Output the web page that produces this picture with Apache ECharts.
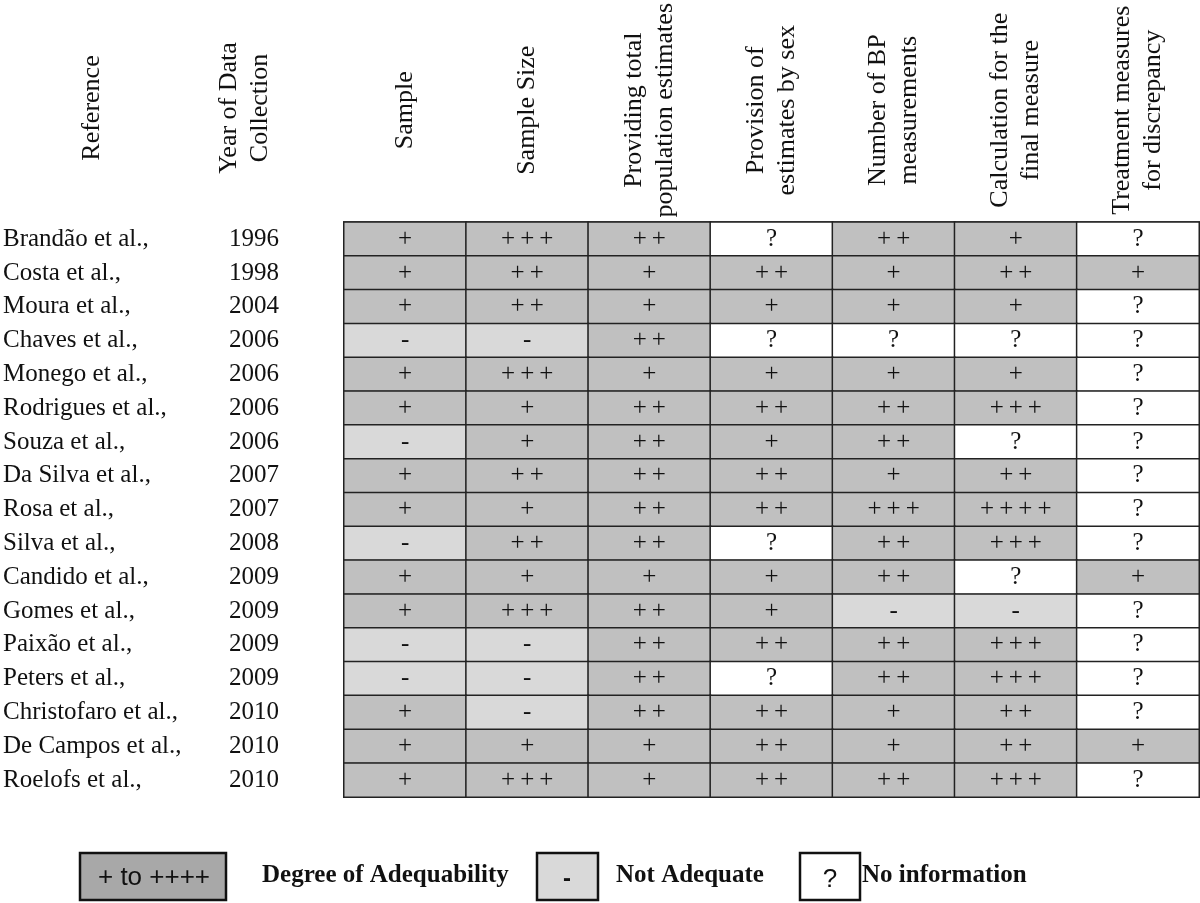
<!DOCTYPE html>
<html>
<head>
<meta charset="utf-8">
<script src="https://cdn.jsdelivr.net/npm/echarts@6/dist/echarts.min.js"></script>
<style>html,body{margin:0;padding:0;background:#fff}#chart{width:1200px;height:903px}</style>
</head>
<body>
<div id="chart"></div>
<script>
const references = ['Brandão et al.,','Costa et al.,','Moura et al.,','Chaves et al.,','Monego et al.,','Rodrigues et al.,','Souza et al.,','Da Silva et al.,','Rosa et al.,','Silva et al.,','Candido et al.,','Gomes et al.,','Paixão et al.,','Peters et al.,','Christofaro et al.,','De Campos et al.,','Roelofs et al.,'];
const years = ['1996','1998','2004','2006','2006','2006','2006','2007','2007','2008','2009','2009','2009','2009','2010','2010','2010'];
const criteria = ['Sample','Sample Size','Providing total\npopulation estimates','Provision of\nestimates by sex','Number of BP\nmeasurements','Calculation for the\nfinal measure','Treatment measures\nfor discrepancy'];
const ratings = [
  ['+','+++','++','?','++','+','?'],
  ['+','++','+','++','+','++','+'],
  ['+','++','+','+','+','+','?'],
  ['-','-','++','?','?','?','?'],
  ['+','+++','+','+','+','+','?'],
  ['+','+','++','++','++','+++','?'],
  ['-','+','++','+','++','?','?'],
  ['+','++','++','++','+','++','?'],
  ['+','+','++','++','+++','++++','?'],
  ['-','++','++','?','++','+++','?'],
  ['+','+','+','+','++','?','+'],
  ['+','+++','++','+','-','-','?'],
  ['-','-','++','++','++','+++','?'],
  ['-','-','++','?','++','+++','?'],
  ['+','-','++','++','+','++','?'],
  ['+','+','+','++','+','++','+'],
  ['+','+++','+','++','++','+++','?']
];

function level(s){ return s === '-' ? -1 : (s === '?' ? 0 : s.length); }
function symbol(v){ return v === -1 ? '-' : (v === 0 ? '?' : new Array(v).fill('+').join('\u2009')); }

const cells = [];
ratings.forEach((row, r) => row.forEach((s, c) => cells.push([c, r, level(s)])));

const SERIF = '"Liberation Serif","Times New Roman",serif';
const SANS = '"Liberation Sans",Arial,sans-serif';
const chart = echarts.init(document.getElementById('chart'), null, {renderer: 'canvas'});
chart.setOption({
  backgroundColor: '#ffffff',
  animation: false,
  grid: {left: 341, right: 1, top: 220, bottom: 106, show: true, borderColor: '#222', borderWidth: 2, backgroundColor: 'transparent'},
  xAxis: {
    type: 'category', position: 'top', data: criteria,
    axisLine: {show: false}, axisTick: {show: false}, splitLine: {show: false},
    axisLabel: {interval: 0, rotate: -90, align: 'center', verticalAlign: 'middle', margin: 112,
      fontFamily: SERIF, fontSize: 26, lineHeight: 31, color: '#111'}
  },
  yAxis: [
    {type: 'category', data: references, inverse: true,
     axisLine: {show: false}, axisTick: {show: false}, splitLine: {show: false},
     axisLabel: {interval: 0, align: 'left', margin: 341, fontFamily: SERIF, fontSize: 25, color: '#111'}},
    {type: 'category', data: years.map((y, i) => String(i)), inverse: true, position: 'left',
     axisLine: {show: false}, axisTick: {show: false}, splitLine: {show: false},
     axisLabel: {interval: 0, align: 'left', margin: 115, fontFamily: SERIF, fontSize: 25, color: '#111',
       formatter: (v) => years[+v]}}
  ],
  visualMap: {
    type: 'piecewise', show: false, dimension: 2, seriesIndex: 0,
    pieces: [
      {value: -1, color: '#d9d9d9'},
      {value: 0, color: '#ffffff'},
      {min: 1, max: 4, color: '#c0c0c0'}
    ]
  },
  series: [{
    type: 'heatmap', data: cells, xAxisIndex: 0, yAxisIndex: 0,
    itemStyle: {borderColor: '#222', borderWidth: 1.5},
    emphasis: {disabled: true},
    label: {show: true, formatter: (p) => symbol(p.value[2]), fontFamily: SERIF, fontSize: 25, color: '#111'}
  }],
  graphic: [
    {type: 'text', x: 92, y: 108, rotation: Math.PI / 2,
     style: {text: 'Reference', font: '26px ' + SERIF, fill: '#111', textAlign: 'center', textVerticalAlign: 'middle'}},
    {type: 'text', x: 245, y: 108, rotation: Math.PI / 2,
     style: {text: 'Year of Data\nCollection', font: '26px ' + SERIF, lineHeight: 31, fill: '#111', textAlign: 'center', textVerticalAlign: 'middle'}},
    {type: 'rect', shape: {x: 80, y: 853, width: 146, height: 47}, style: {fill: '#a8a8a8', stroke: '#111', lineWidth: 2.5}},
    {type: 'text', x: 154, y: 878, style: {text: '+ to ++++', font: '26px ' + SANS, fill: '#111', textAlign: 'center', textVerticalAlign: 'middle'}},
    {type: 'text', x: 262, y: 876, style: {text: 'Degree of Adequability', font: 'bold 25px ' + SERIF, fill: '#111', textAlign: 'left', textVerticalAlign: 'middle'}},
    {type: 'rect', shape: {x: 537, y: 853, width: 61, height: 47}, style: {fill: '#d9d9d9', stroke: '#111', lineWidth: 2.5}},
    {type: 'text', x: 567, y: 879, style: {text: '-', font: 'bold 24px ' + SANS, fill: '#111', textAlign: 'center', textVerticalAlign: 'middle'}},
    {type: 'text', x: 616, y: 876, style: {text: 'Not Adequate', font: 'bold 25px ' + SERIF, fill: '#111', textAlign: 'left', textVerticalAlign: 'middle'}},
    {type: 'rect', shape: {x: 800, y: 853, width: 60, height: 47}, style: {fill: '#ffffff', stroke: '#111', lineWidth: 2.5}},
    {type: 'text', x: 830, y: 880, style: {text: '?', font: '26px ' + SANS, fill: '#111', textAlign: 'center', textVerticalAlign: 'middle'}},
    {type: 'text', x: 862, y: 876, style: {text: 'No information', font: 'bold 25px ' + SERIF, fill: '#111', textAlign: 'left', textVerticalAlign: 'middle'}}
  ]
});
</script>
</body>
</html>
